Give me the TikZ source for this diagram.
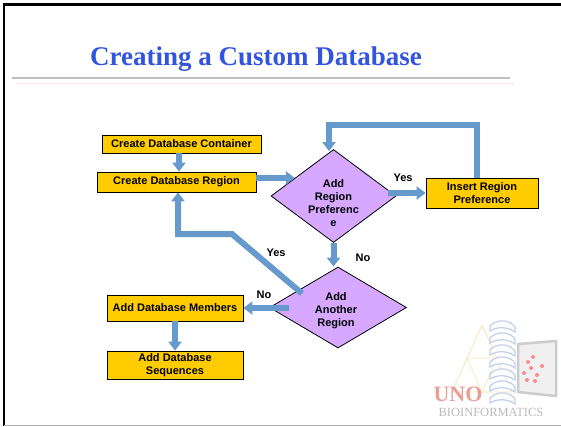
\documentclass[tikz,border=0pt]{standalone}
\usepackage{fontspec}
\setmainfont{Liberation Serif}
\setsansfont{Liberation Sans}
\usetikzlibrary{arrows.meta,shapes.geometric,calc}

\definecolor{flowblue}{RGB}{102,153,204}
\definecolor{boxyellow}{RGB}{255,204,0}
\definecolor{diapurple}{RGB}{214,168,255}
\definecolor{titleblue}{RGB}{51,85,221}
\definecolor{unored}{RGB}{232,158,148}
\definecolor{logogray}{RGB}{186,186,186}
\definecolor{logoyellow}{RGB}{246,228,178}
\definecolor{helixblue}{RGB}{190,208,234}

\tikzset{
  labelfont/.style={font=\sffamily\bfseries\fontsize{11}{13}\selectfont},
  stepbox/.style={draw=black, line width=0.8pt, fill=boxyellow, labelfont,
    align=center, inner sep=0pt},
  decision/.style={diamond, draw=black, line width=0.8pt, fill=diapurple,
    inner sep=0pt},
  dtext/.style={labelfont, align=center, inner sep=0pt},
  branch/.style={labelfont, inner sep=0pt},
  flow/.style={draw=flowblue, line width=6pt, line join=miter,
    -{Triangle[length=9pt,width=13pt]}},
}

\begin{document}
\begin{tikzpicture}[x=1pt,y=-1pt]
\useasboundingbox (0,0) rectangle (561,426);

% slide frame
\draw[line width=2.2pt] (4.3,426) -- (4.3,4.5) -- (561,4.5);
\draw[gray!60, line width=1pt] (4.3,425) -- (561,425);

% title and rules
\node[font=\rmfamily\bfseries\fontsize{27}{30}\selectfont, text=titleblue,
  anchor=base, inner sep=0pt] (title) at (256,65) {Creating a Custom Database};
\draw[gray!50, line width=2pt] (12,78) -- (510,78);
\draw[red!10, line width=0.8pt] (16,83) -- (515,83);

% process boxes
\node[stepbox, minimum width=159pt, minimum height=18pt] (cont) at (181.5,144) {Create Database Container};
\node[stepbox, minimum width=159pt, minimum height=20pt] (reg) at (176.5,182) {Create Database Region};
\node[stepbox, minimum width=112pt, minimum height=30pt] (ins) at (482,193) {Insert Region\\Preference};
\node[stepbox, minimum width=136pt, minimum height=26pt] (mem) at (175,308) {Add Database Members};
\node[stepbox, minimum width=136pt, minimum height=28pt] (seq) at (175,365) {Add Database\\Sequences};

% decisions
\node[decision, minimum width=125pt, minimum height=93pt] (d1) at (333.5,196) {};
\node[dtext] (d1t) at (333.5,203) {Add\\Region\\Preferenc\\e};
\node[decision, minimum width=137pt, minimum height=81pt] (d2) at (338,307.5) {};
\node[dtext] (d2t) at (336,310.5) {Add\\Another\\Region};

% bend points
\coordinate (loop) at (329,125);
\coordinate (yesA) at (232,234);
\coordinate (yesB) at (178,234);

% connectors
\draw[flow] ([xshift=-2.5pt]cont.south) -- ([xshift=-2.5pt]cont.south |- reg.north);
\draw[flow] (reg.east |- d1.155) -- (d1.155);
\draw[flow] ([xshift=-8pt]ins.west -| d1.east) -- (ins.west);
\draw[flow] ([xshift=-5pt]ins.north) |- (loop) -- ([yshift=-2pt]loop |- d1.north);
\draw[flow] (d1.south) -- (d1.south |- d2.north);
\draw[flow] ($(d2.center)+(-36,-14)$) -- (yesA) -- (yesB) -- (yesB |- reg.south);
\draw[flow] ([xshift=46pt]mem.east) -- (mem.east);
\draw[flow] (mem.south) -- (seq.north);

% branch labels
\node[branch] (ly1) at (403,178) {Yes};
\node[branch] (ln1) at (363,258) {No};
\node[branch] (ly2) at (276,253) {Yes};
\node[branch] (ln2) at (264,295) {No};

% faded logo: triangle, helix ribbon, monitor, lettering
\draw[logoyellow, line width=0.8pt] (482,325) -- (452,392) -- (512,392) -- cycle;
\draw[logoyellow, line width=0.6pt] (467,358) -- (497,358) -- (482,392) -- cycle;
\foreach \yy in {326,338,...,398}{
  \filldraw[fill=white, draw=helixblue, line width=1.2pt]
    (490,\yy) .. controls (498,\yy-8) and (510,\yy-6) .. (515,\yy+1)
    -- (515,\yy+6) .. controls (508,\yy+1) and (498,\yy) .. (490,\yy+5) -- cycle;
}
\filldraw[fill=gray!12, draw=gray!40, line width=2.5pt, line join=round]
  (518,344) -- (556,341) -- (556,396) -- (518,392) -- cycle;
\foreach \dx/\dy in {528/362,533/357,531/368,524/373,537/375,542/366,535/381,527/380}{
  \fill[red!45] (\dx,\dy) circle (2pt);
}
\node[font=\rmfamily\bfseries\fontsize{22}{22}\selectfont, text=unored, inner sep=0pt]
  (uno) at (458,394) {UNO};
\node[font=\rmfamily\fontsize{12.5}{12.5}\selectfont, text=logogray, inner sep=0pt]
  (bio) at (491,412) {BIOINFORMATICS};
\end{tikzpicture}
\end{document}
